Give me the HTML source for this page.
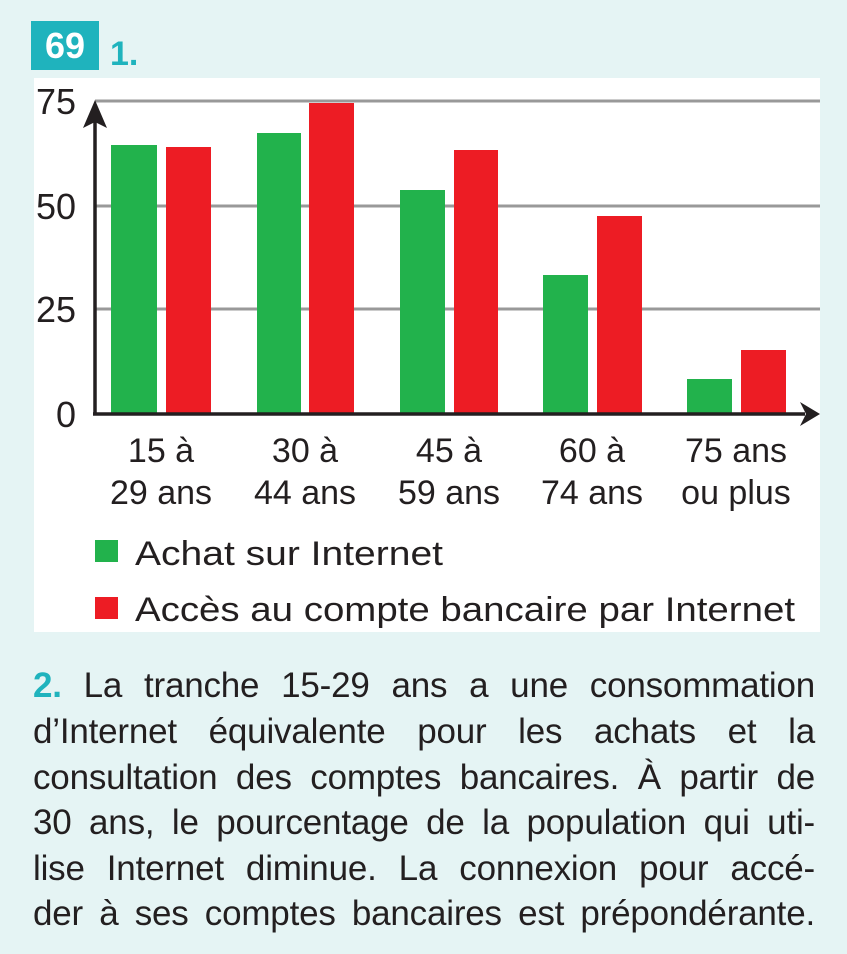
<!DOCTYPE html>
<html><head><meta charset="utf-8"><style>
body{margin:0;width:847px;height:954px;background:#e5f4f4;position:relative;overflow:hidden;font-family:"Liberation Sans",sans-serif;color:#231f20}
.a{position:absolute}
.p{position:absolute;left:33px;width:782px;font-size:35px;line-height:34px;text-align:justify;text-align-last:justify;white-space:nowrap;letter-spacing:-0.2px}
</style></head><body>
<div class="a" style="left:31px;top:21px;width:68px;height:49px;background:#1fb3bd;color:#fff;font-weight:bold;font-size:36px;line-height:49px;text-align:center">69</div>
<div class="a" style="left:110px;top:34px;color:#1fb3bd;font-weight:bold;font-size:34px;line-height:40px">1.</div>
<div class="a" style="left:34px;top:78px;width:786px;height:554px;background:#fff"></div>
<svg class="a" style="left:0;top:0" width="847" height="954">
<g stroke="#999" stroke-width="3">
<line x1="95" y1="101" x2="820" y2="101"/><line x1="95" y1="206" x2="820" y2="206"/><line x1="95" y1="309" x2="820" y2="309"/>
</g>
<g fill="#22b24c">
<rect x="111" y="145" width="46" height="269"/><rect x="257" y="133" width="44" height="281"/><rect x="400" y="190" width="45" height="224"/><rect x="543" y="275" width="45" height="139"/><rect x="687" y="379" width="45" height="35"/>
</g>
<g fill="#ed1c24">
<rect x="166" y="147" width="45" height="267"/><rect x="309" y="103" width="45" height="311"/><rect x="454" y="150" width="44" height="264"/><rect x="597" y="216" width="45" height="198"/><rect x="741" y="350" width="45" height="64"/>
</g>
<g stroke="#231f20" stroke-width="3.5"><line x1="95" y1="414" x2="95" y2="115"/><line x1="93" y1="414" x2="805" y2="414"/></g>
<polygon points="95,100 83,128 95,122 107,128" fill="#231f20"/>
<polygon points="820,414 800,402 806,414 800,426" fill="#231f20"/>
<g font-size="36" fill="#231f20" font-family="Liberation Sans,sans-serif" text-anchor="end">
<text x="76" y="114">75</text><text x="76" y="219">50</text><text x="76" y="322">25</text><text x="76" y="427">0</text>
</g>
<g font-size="34" fill="#231f20" font-family="Liberation Sans,sans-serif" text-anchor="middle">
<text x="161" y="462">15 à</text><text x="161" y="504">29 ans</text>
<text x="305" y="462">30 à</text><text x="305" y="504">44 ans</text>
<text x="449" y="462">45 à</text><text x="449" y="504">59 ans</text>
<text x="592" y="462">60 à</text><text x="592" y="504">74 ans</text>
<text x="736" y="462">75 ans</text><text x="736" y="504">ou plus</text>
</g>
<rect x="95" y="540" width="23" height="22" fill="#22b24c"/>
<rect x="95" y="597" width="23" height="22" fill="#ed1c24"/>
<g font-size="34" fill="#231f20" font-family="Liberation Sans,sans-serif">
<text x="135" y="565" textLength="308" lengthAdjust="spacingAndGlyphs">Achat sur Internet</text>
<text x="135" y="621" textLength="660" lengthAdjust="spacingAndGlyphs">Accès au compte bancaire par Internet</text>
</g>
</svg>
<div class="p" style="top:669px"><b style="color:#1fb3bd">2.</b> La tranche 15-29 ans a une consommation</div>
<div class="p" style="top:715px">d’Internet équivalente pour les achats et la</div>
<div class="p" style="top:761px">consultation des comptes bancaires. À partir de</div>
<div class="p" style="top:806px">30 ans, le pourcentage de la population qui uti-</div>
<div class="p" style="top:852px">lise Internet diminue. La connexion pour accé-</div>
<div class="p" style="top:897px">der à ses comptes bancaires est prépondérante.</div>
</body></html>
